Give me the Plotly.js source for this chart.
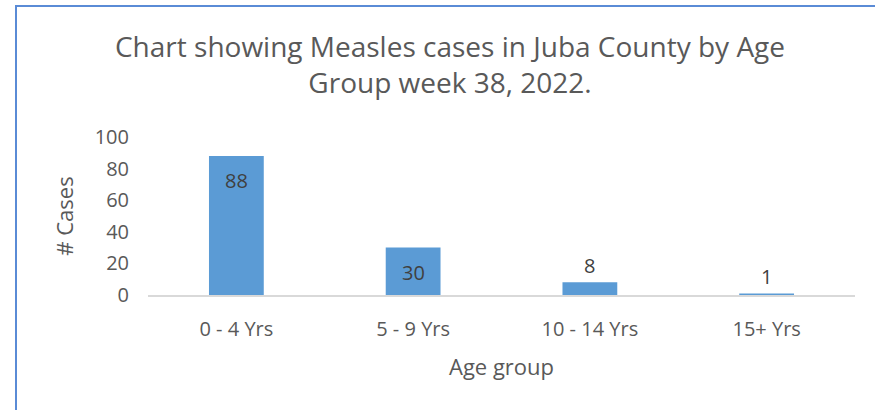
<!DOCTYPE html>
<html>
<head>
<meta charset="utf-8">
<script src="https://cdn.plot.ly/plotly-3.0.1.min.js"></script>
<style>
  html, body { margin: 0; padding: 0; background: #ffffff; }
  #wrap { position: relative; width: 875px; height: 410px; overflow: hidden; }
  #chart { position: absolute; left: 0; top: 0; width: 875px; height: 410px; }
  #frame { position: absolute; left: 15px; top: 5px; width: 1000px; height: 1000px;
           border-left: 2px solid #5a8bd6; border-top: 2px solid #5a8bd6; pointer-events: none; }
</style>
</head>
<body>
<div id="wrap">
  <div id="chart"></div>
  <div id="frame"></div>
</div>
<script>
const categories = ["0 - 4 Yrs", "5 - 9 Yrs", "10 - 14 Yrs", "15+ Yrs"];
const cases = [88, 30, 8, 1];
const yTickValues = [0, 20, 40, 60, 80, 100];

const FONT = '"Open Sans", "Liberation Sans", sans-serif';

const annotations = cases.map((v, i) => {
  const inside = v >= 20;
  return {
    x: categories[i], y: v, xref: 'x', yref: 'y',
    text: String(v), showarrow: false,
    yanchor: inside ? 'top' : 'bottom',
    yshift: inside ? -9 : 1,
    font: { family: FONT, size: 20, color: '#404040' }
  };
});

const trace = {
  type: 'bar',
  x: categories,
  y: cases,
  marker: { color: '#5b9bd5' },
  hoverinfo: 'none'
};

const layout = {
  width: 875, height: 410,
  margin: { l: 148, r: 20, t: 137, b: 115, pad: 0 },
  paper_bgcolor: '#ffffff', plot_bgcolor: '#ffffff',
  bargap: 0.69,
  showlegend: false,
  title: {
    text: 'Chart showing Measles cases in Juba County by Age<br>Group week 38, 2022.',
    x: 450 / 875, xanchor: 'center', xref: 'container',
    y: 0.862, yanchor: 'middle', yref: 'container',
    font: { family: FONT, size: 28, color: '#595959' }
  },
  xaxis: {
    type: 'category',
    showgrid: false, zeroline: false,
    showline: true, linecolor: '#d9d9d9', linewidth: 1.5,
    ticks: '', ticklabelstandoff: 15,
    tickfont: { family: FONT, size: 20, color: '#595959' },
    title: { text: 'Age group', standoff: 19, font: { family: FONT, size: 22, color: '#595959' } },
    fixedrange: true
  },
  yaxis: {
    range: [0, 100], tickvals: yTickValues, ticktext: yTickValues.map(String),
    showgrid: false, zeroline: false, showline: false,
    ticks: '', ticklabelstandoff: 18,
    tickfont: { family: FONT, size: 20, color: '#595959' },
    title: { text: '# Cases', standoff: 14, font: { family: FONT, size: 22, color: '#595959' } },
    fixedrange: true
  },
  annotations: annotations
};

Plotly.newPlot('chart', [trace], layout, { displayModeBar: false, staticPlot: true });
</script>
</body>
</html>
